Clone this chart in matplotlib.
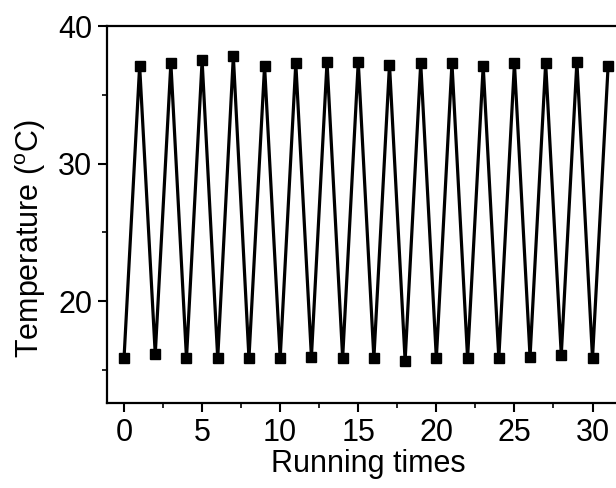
import matplotlib
matplotlib.use("Agg")
import matplotlib.pyplot as plt
from matplotlib.ticker import MultipleLocator

plt.rcParams['font.family'] = ['Liberation Sans', 'DejaVu Sans']
plt.rcParams['mathtext.default'] = 'regular'

# running index 0..31, alternating cold / hot
runs = list(range(32))
temps = [15.85, 37.1, 16.15, 37.3, 15.85, 37.5, 15.85, 37.8,
         15.85, 37.1, 15.85, 37.3, 15.95, 37.4, 15.87, 37.4,
         15.85, 37.2, 15.67, 37.3, 15.85, 37.3, 15.85, 37.1,
         15.85, 37.3, 15.95, 37.3, 16.1, 37.4, 15.85, 37.1]

fig = plt.figure(figsize=(6.16, 4.88), dpi=100)
ax = fig.add_axes([0.1737, 0.1742, 0.849, 0.7725])

ax.plot(runs, temps, color='black', lw=2.3, marker='s', markersize=6.5)

ax.set_xlim(-1.09, 32.4)
ax.set_ylim(12.6, 40)
ax.xaxis.set_major_locator(MultipleLocator(5))
ax.xaxis.set_minor_locator(MultipleLocator(2.5))
ax.yaxis.set_major_locator(MultipleLocator(10))
ax.yaxis.set_minor_locator(MultipleLocator(5))
ax.tick_params(which='major', direction='out', length=6.5, width=1.5, labelsize=22, pad=4)
ax.tick_params(which='minor', direction='out', length=3.5, width=1.2)

for s in ax.spines.values():
    s.set_linewidth(1.6)
ax.spines['right'].set_visible(False)

ax.set_xlabel('Running times', fontsize=22, labelpad=1)
ax.set_ylabel('Temperature ($^{o}$C)', fontsize=22)
ax.yaxis.set_label_coords(-0.112, 0.437)

fig.savefig('out.png', dpi=100)
